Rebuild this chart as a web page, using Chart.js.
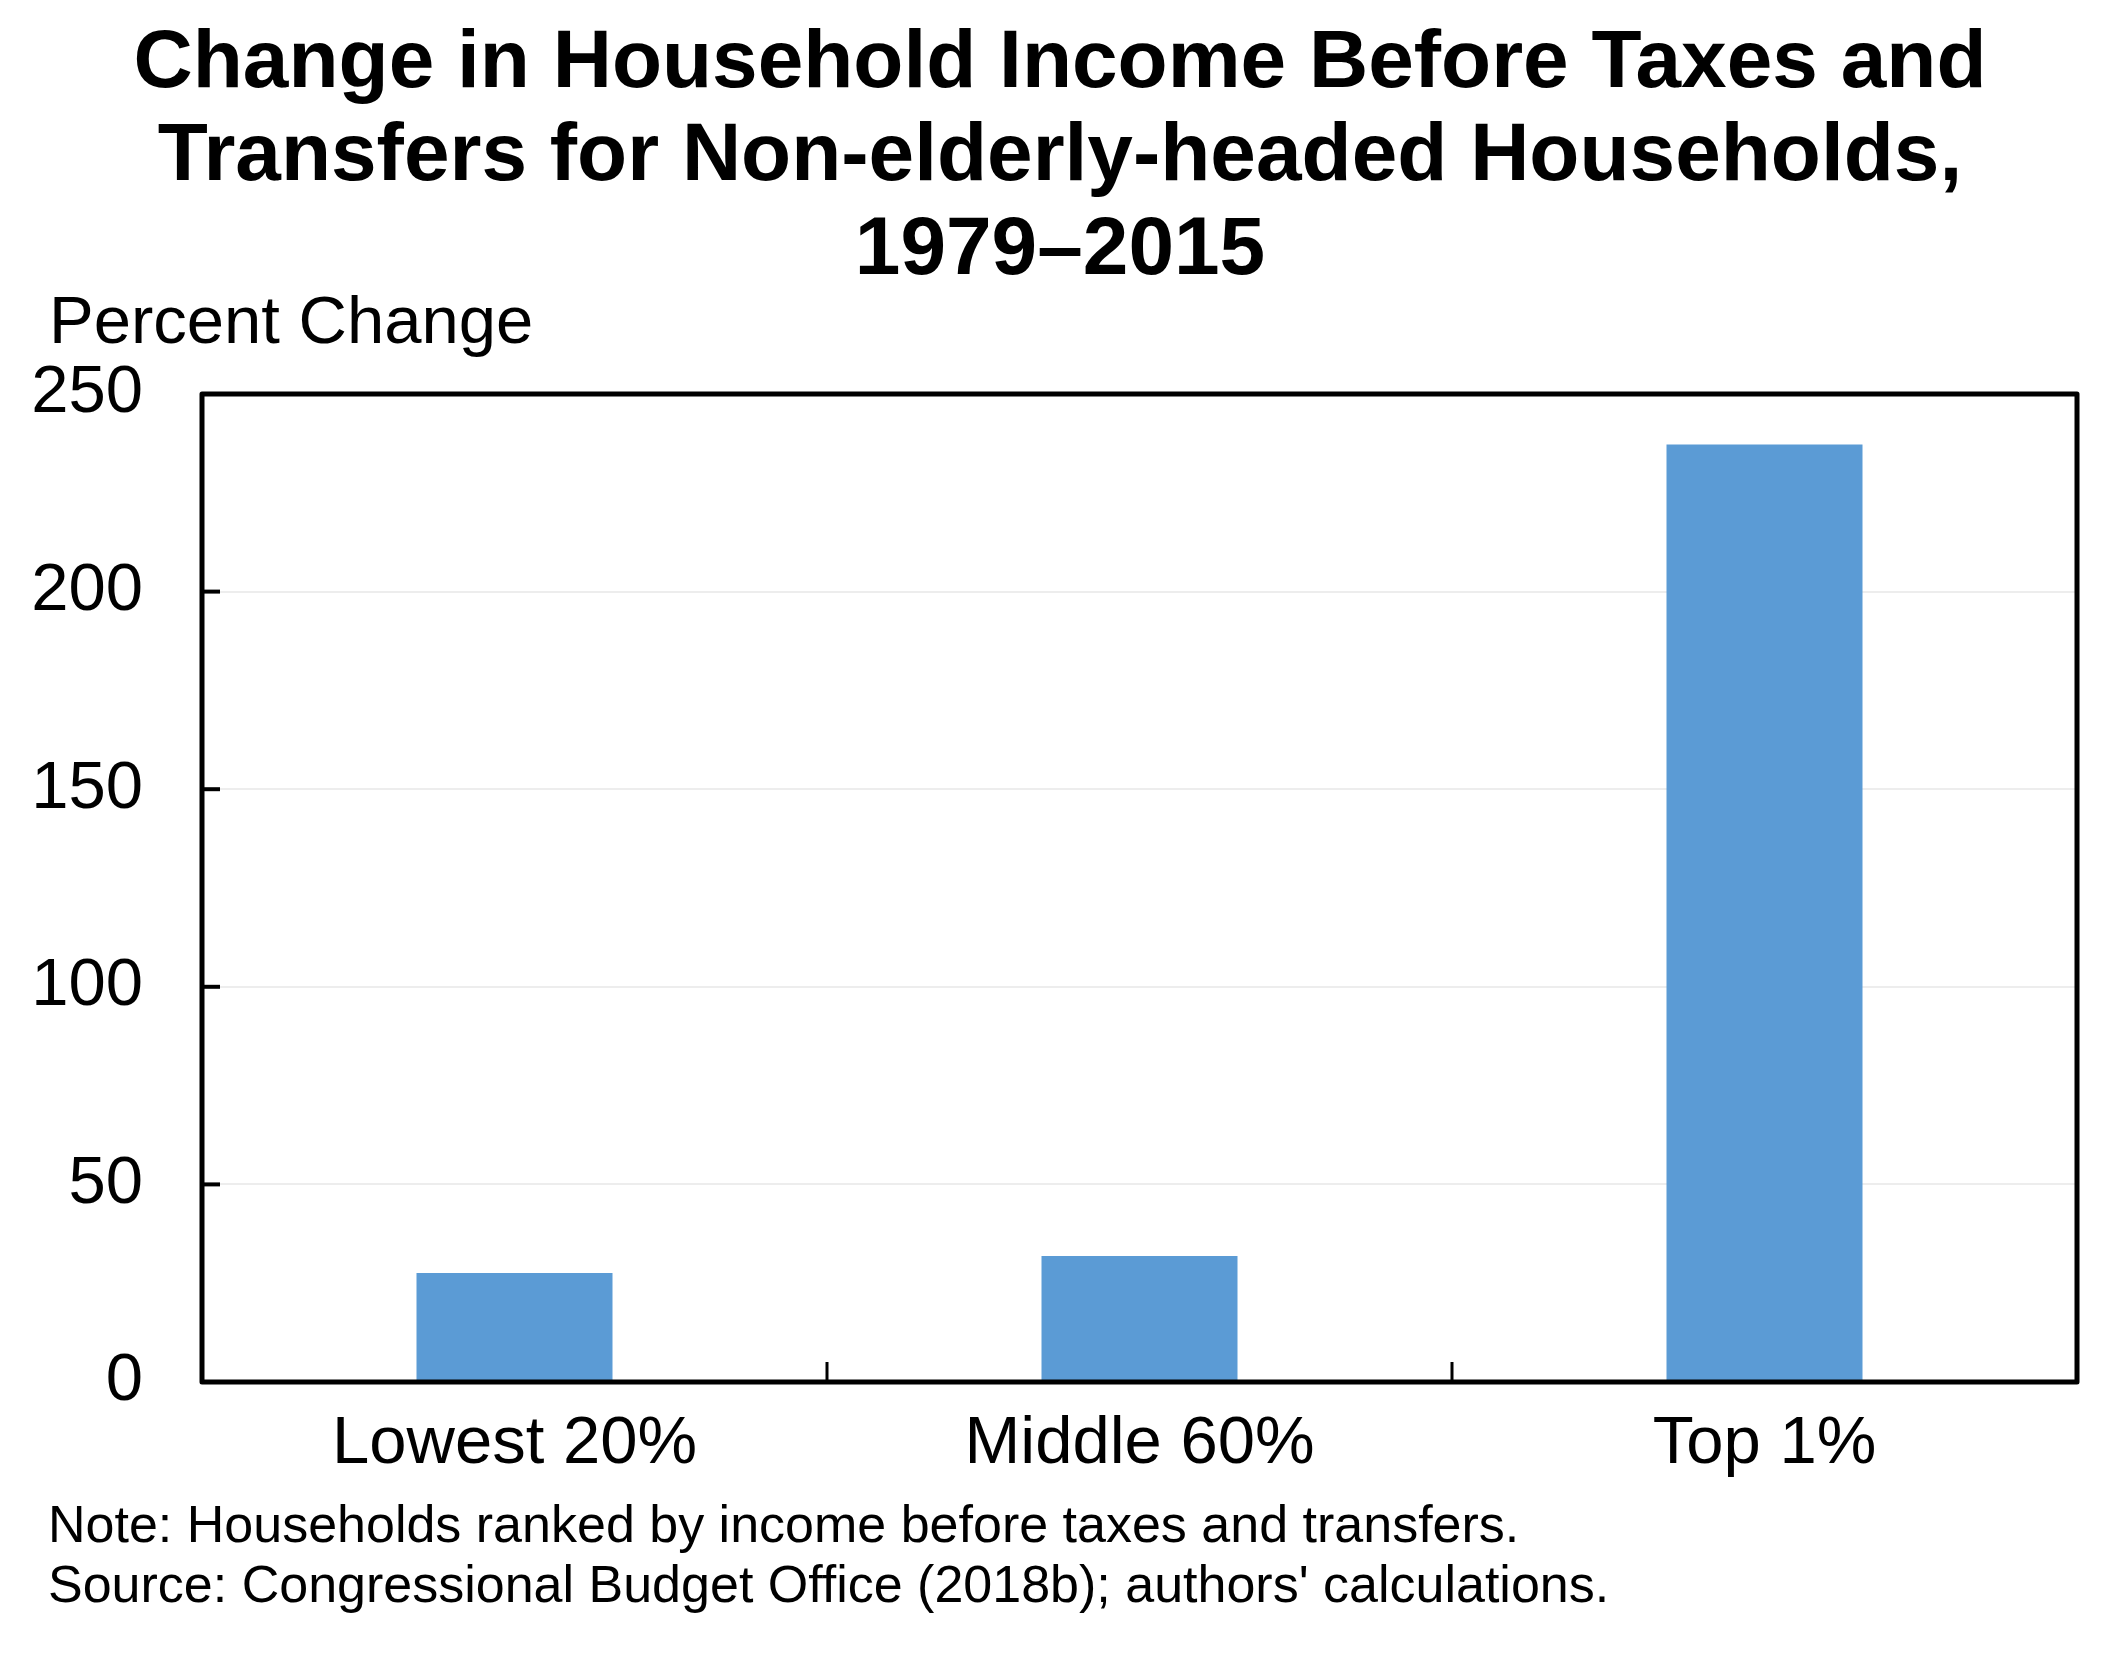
<!DOCTYPE html>
<html>
<head>
<meta charset="utf-8">
<script src="https://cdn.jsdelivr.net/npm/chart.js@4/dist/chart.umd.min.js"></script>
<style>
  html, body { margin: 0; padding: 0; background: #ffffff; }
  #wrap { width: 2124px; height: 1656px; position: relative; }
</style>
</head>
<body>
<div id="wrap"><canvas id="c" width="2124" height="1656"></canvas></div>
<script>
const titleLines = ["Change in Household Income Before Taxes and", "Transfers for Non-elderly-headed Households,", "1979\u20132015"];
const yAxisLabel = "Percent Change";
const categories = ["Lowest 20%", "Middle 60%", "Top 1%"];
const percentChange = [27.6, 31.9, 237.2];
const yTicks = [0, 50, 100, 150, 200, 250];
const noteLines = ["Note: Households ranked by income before taxes and transfers.", "Source: Congressional Budget Office (2018b); authors' calculations."];

const FONT = "'Liberation Sans', Arial, Helvetica, sans-serif";

const decor = {
  id: 'decor',
  afterDatasetsDraw(chart) {
    const ctx = chart.ctx;
    const a = chart.chartArea;
    const xs = chart.scales.x, ys = chart.scales.y;
    ctx.save();
    // inner y ticks
    ctx.strokeStyle = '#000';
    ctx.lineWidth = 4;
    ctx.lineCap = 'butt';
    yTicks.forEach(v => {
      const y = ys.getPixelForValue(v);
      ctx.beginPath(); ctx.moveTo(a.left, y); ctx.lineTo(a.left + 18, y); ctx.stroke();
    });
    // inner x ticks at category boundaries
    ctx.lineWidth = 3;
    for (let i = 0; i < categories.length - 1; i++) {
      const x = (xs.getPixelForValue(i) + xs.getPixelForValue(i + 1)) / 2;
      ctx.beginPath(); ctx.moveTo(x, a.bottom); ctx.lineTo(x, a.bottom - 20); ctx.stroke();
    }
    // frame
    ctx.lineWidth = 5;
    ctx.lineJoin = 'round';
    ctx.strokeRect(a.left, a.top, a.right - a.left, a.bottom - a.top);
    ctx.restore();
  },
  afterDraw(chart) {
    const ctx = chart.ctx;
    ctx.save();
    ctx.fillStyle = '#000';
    ctx.textBaseline = 'alphabetic';
    // title
    ctx.font = "bold 82px " + FONT;
    ctx.textAlign = 'center';
    const tb = [87, 180, 274];
    titleLines.forEach((t, i) => ctx.fillText(t, 1060, tb[i]));
    // y axis label
    ctx.font = "67px " + FONT;
    ctx.textAlign = 'left';
    ctx.fillText(yAxisLabel, 49, 343);
    // notes
    ctx.font = "52px " + FONT;
    const nb = [1542, 1602];
    noteLines.forEach((t, i) => ctx.fillText(t, 48, nb[i]));
    ctx.restore();
  }
};

new Chart(document.getElementById('c'), {
  type: 'bar',
  data: {
    labels: categories,
    datasets: [{
      data: percentChange,
      backgroundColor: '#5B9BD5',
      borderWidth: 0,
      barPercentage: 0.3136,
      categoryPercentage: 1.0
    }]
  },
  options: {
    responsive: false,
    animation: false,
    devicePixelRatio: 1,
    layout: { padding: { top: 394, right: 47, bottom: 0, left: 0 } },
    plugins: {
      legend: { display: false },
      title: { display: false },
      tooltip: { enabled: false }
    },
    scales: {
      x: {
        grid: { display: false, drawTicks: false },
        border: { display: false },
        ticks: {
          color: '#000',
          font: { family: FONT, size: 67 },
          padding: 22,
          maxRotation: 0
        },
        afterFit(s) { s.height = 274; }
      },
      y: {
        min: 0,
        max: 250,
        afterBuildTicks(s) { s.ticks = yTicks.map(v => ({ value: v })); },
        grid: { color: '#ededed', lineWidth: 2, drawTicks: false },
        border: { display: false },
        ticks: {
          color: '#000',
          font: { family: FONT, size: 67 },
          padding: 59
        },
        afterFit(s) { s.width = 202; }
      }
    }
  },
  plugins: [decor]
});
</script>
</body>
</html>
